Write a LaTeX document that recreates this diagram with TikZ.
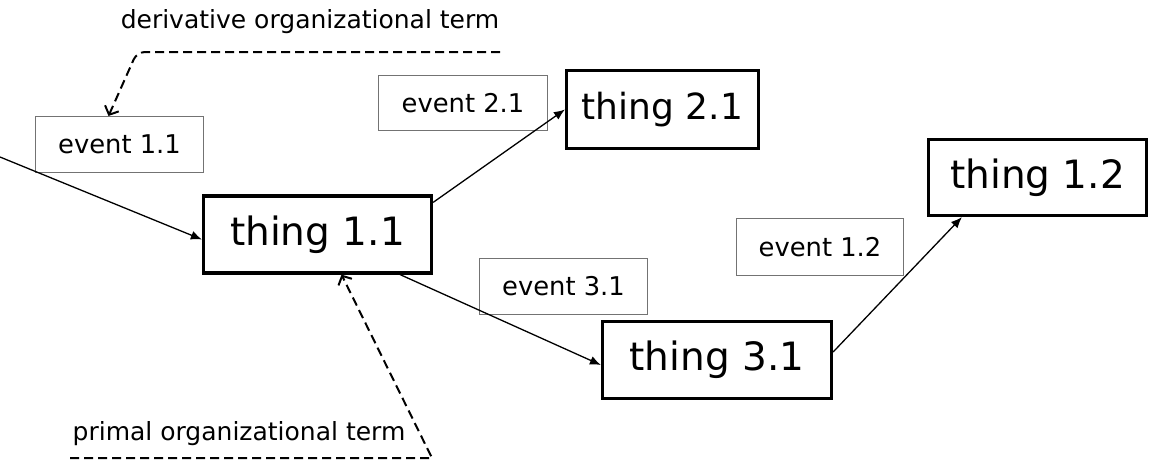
\documentclass[tikz,border=0pt]{standalone}
\usepackage{fontspec}
\setmainfont{DejaVu Sans}
\usetikzlibrary{arrows.meta}

\begin{document}
\begin{tikzpicture}[x=1pt,y=-1pt,
	thing/.style={draw,line width=3.2pt,inner sep=0pt,font=\fontsize{39}{42}\selectfont},
	event/.style={draw=black!55,line width=1pt,inner sep=0pt,font=\fontsize{25.8}{29}\selectfont},
	termtext/.style={inner sep=0pt,font=\fontsize{25}{28}\selectfont},
	flow/.style={line width=1.3pt,-{Latex[length=11pt,width=9pt]}},
	termline/.style={line width=2pt,dash pattern=on 9pt off 5pt,-{Straight Barb[length=7pt,width=15pt]}}]
	\useasboundingbox (0,0) rectangle (1150,461);

	\path (317.5,234.5) node[thing,minimum width=228pt,minimum height=77pt] (t11) {thing 1.1};
	\path (662.5,109.5) node[thing,minimum width=192pt,minimum height=78pt,font=\fontsize{36}{40}\selectfont] (t21) {thing 2.1};
	\path (717,360)     node[thing,minimum width=229pt,minimum height=77pt] (t31) {thing 3.1};
	\path (1037.5,177.5) node[thing,minimum width=218pt,minimum height=76pt] (t12) {thing 1.2};

	\path (119.5,144.5) node[event,minimum width=168pt,minimum height=56pt] (e11) {event 1.1};
	\path (463,103)     node[event,minimum width=169pt,minimum height=55pt] (e21) {event 2.1};
	\path (563.5,286.5) node[event,minimum width=168pt,minimum height=56pt] (e31) {event 3.1};
	\path (820,247)     node[event,minimum width=167pt,minimum height=57pt] (e12) {event 1.2};

	\path (310,22)  node[termtext] (dterm) {derivative organizational term};
	\path (239,434) node[termtext] (pterm) {primal organizational term};

	\coordinate (in) at (0,157);
	\draw[flow] (in) -- ([yshift=-5pt]t11.west);
	\draw[flow] ([yshift=-8pt]t11.north east) -- (t21.west);
	\draw[flow] ([xshift=-33pt]t11.south east) -- ([yshift=-5pt]t31.west);
	\draw[flow] ([yshift=8pt]t31.east) -- ([xshift=35pt]t12.south west);

	\coordinate (dend)  at (500,52);
	\coordinate (dbend) at (137,52);
	\draw[termline,rounded corners=8pt] (dend) -- (dbend) -- ([xshift=-11pt]e11.north);
	\coordinate (pstart) at (70,458);
	\coordinate (pbend)  at (432,458);
	\draw[termline] (pstart) -- (pbend) -- ([xshift=24pt]t11.south);
\end{tikzpicture}
\end{document}
